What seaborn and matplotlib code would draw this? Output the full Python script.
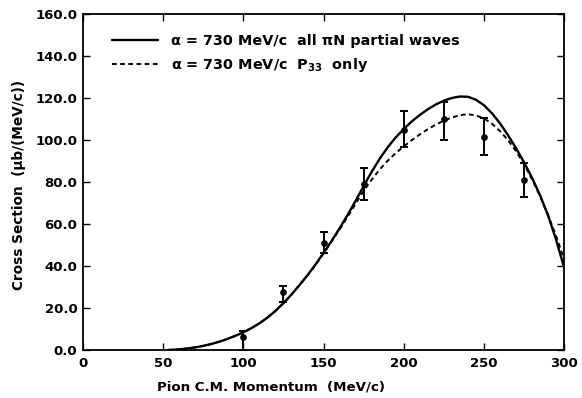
import numpy as np
import pandas as pd
import matplotlib
matplotlib.use("Agg")
import matplotlib.pyplot as plt
import seaborn as sns

# Theory curves
x_solid = [53, 55, 60, 65, 70, 75, 80, 85, 90, 95, 100, 105, 110, 115, 120, 125,
           130, 135, 140, 145, 150, 155, 160, 165, 170, 175, 180, 185, 190, 195,
           200, 205, 210, 215, 220, 225, 230, 235, 240, 245, 250, 255, 260, 265,
           270, 275, 280, 285, 290, 295, 300]
y_solid = [0, 0.08, 0.3, 0.7, 1.25, 1.95, 2.85, 3.95, 5.25, 6.75, 8.4, 10.4, 12.7,
           15.4, 18.6, 22.3, 26.4, 30.9, 35.6, 40.7, 46.2, 51.9, 57.9, 64.3, 71.0,
           78.0, 84.8, 91.0, 96.5, 101.2, 105.2, 108.8, 111.9, 114.6, 116.9, 118.7,
           120.0, 120.7, 120.6, 119.2, 116.6, 112.8, 108.0, 102.4, 96.2, 89.5, 82.1,
           73.8, 64.2, 52.7, 39.5]

x_dash = [53, 55, 60, 65, 70, 75, 80, 85, 90, 95, 100, 105, 110, 115, 120, 125,
          130, 135, 140, 145, 150, 155, 160, 165, 170, 175, 180, 185, 190, 195,
          200, 205, 210, 215, 220, 225, 230, 235, 240, 245, 250, 255, 260, 265,
          270, 275, 280, 285, 290, 295, 300]
y_dash = [0, 0.08, 0.3, 0.7, 1.25, 1.95, 2.85, 3.95, 5.25, 6.75, 8.4, 10.4, 12.7,
          15.4, 18.6, 22.3, 26.4, 30.9, 35.5, 40.5, 45.9, 51.6, 57.4, 63.4, 69.6,
          75.7, 81.1, 85.9, 90.1, 93.7, 96.9, 99.9, 102.6, 105.1, 107.3, 109.2,
          110.7, 111.8, 112.3, 111.7, 110.3, 107.8, 104.3, 100.0, 94.8, 88.6, 81.4,
          73.3, 64.4, 54.4, 43.5]

# Measured points
x_data = [100, 125, 150, 175, 200, 225, 250, 275]
y_data = [6, 27.5, 51, 79, 105, 110, 101.5, 81]
err_low = [6, 4.5, 5, 7.5, 8.5, 10, 8.5, 8]
err_high = [3, 3, 5, 7.5, 9, 8, 9, 8]

x_ticks = [0, 50, 100, 150, 200, 250, 300]
y_ticks = [0, 20, 40, 60, 80, 100, 120, 140, 160]

label_solid = "α = 730 MeV/c  all πN partial waves"
label_dash = "α = 730 MeV/c  P$_{\\mathbf{33}}$  only"

sns.set_theme(style="ticks")
plt.rcParams['font.family'] = ['DejaVu Sans']
plt.rcParams['font.weight'] = 'bold'
plt.rcParams['mathtext.default'] = 'bf'
plt.rcParams['text.color'] = 'black'
plt.rcParams['axes.labelcolor'] = 'black'

fig = plt.figure(figsize=(5.82, 3.98), dpi=100)
ax = fig.add_axes([83/582, 48/398, (564-83)/582, (350-14)/398])

df_s = pd.DataFrame({"x": x_solid, "y": y_solid})
df_d = pd.DataFrame({"x": x_dash, "y": y_dash})
sns.lineplot(data=df_s, x="x", y="y", ax=ax, color="black", lw=1.7,
             label=label_solid, sort=False, estimator=None)
sns.lineplot(data=df_d, x="x", y="y", ax=ax, color="black", lw=1.4,
             linestyle=(0, (2.4, 1.8)), label=label_dash, sort=False, estimator=None)

ax.errorbar(x_data, y_data, yerr=[err_low, err_high], fmt="o", color="black",
            ms=3.8, capsize=3, elinewidth=1.4, capthick=1.4, zorder=5)

ax.set_xlim(0, 300)
ax.set_ylim(0, 160)
ax.set_xticks(x_ticks)
ax.set_xticklabels([str(v) for v in x_ticks])
ax.set_yticks(y_ticks)
ax.set_yticklabels([f"{v:.1f}" for v in y_ticks])
ax.tick_params(direction="in", length=5, width=1.0, top=True, right=True,
               labelsize=9.5, colors="black")
ax.tick_params(axis="x", pad=5)
ax.tick_params(axis="y", pad=4)
for s in ax.spines.values():
    s.set_linewidth(1.3)
    s.set_color("black")

ax.set_xlabel("Pion C.M. Momentum  (MeV/c)", fontsize=9.6, fontweight="bold",
              color="black")
ax.set_ylabel("Cross Section  (μb/(MeV/c))", fontsize=9.8, fontweight="bold",
              color="black")
ax.xaxis.set_label_coords(0.39, -0.09)
ax.yaxis.set_label_coords(-0.118, 0.49)

leg = ax.legend(loc="upper left", bbox_to_anchor=(0.06, 0.94), frameon=False,
                fontsize=10.4, handlelength=3.2, handletextpad=0.9,
                labelspacing=0.55, borderpad=0, borderaxespad=0)
for t in leg.get_texts():
    t.set_color("black")

fig.savefig("out.png", dpi=100)
